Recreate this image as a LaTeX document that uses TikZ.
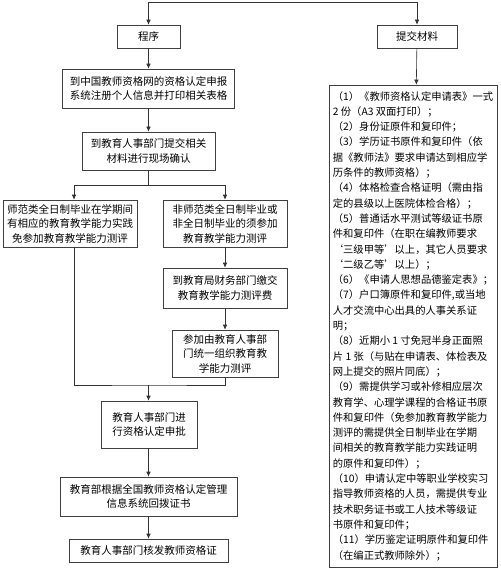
\documentclass[tikz,border=0pt]{standalone}
\usepackage{fontspec}
\setmainfont{Noto Sans CJK SC}
\usepackage{tikz}
\usetikzlibrary{arrows.meta, positioning}

\begin{document}
\begin{tikzpicture}[x=1pt, y=-1pt,
		box/.style={draw=black!75, line width=0.6pt, fill=white, align=center, inner sep=2pt,
			font=\fontsize{10.5}{14.5}\selectfont},
		listbox/.style={draw=black!75, line width=0.6pt, fill=white, align=left, inner sep=3pt,
			font=\fontsize{10.3}{15.3}\selectfont},
		wire/.style={draw=black!80, line width=0.6pt},
		arr/.style={wire, -{Latex[length=5pt, width=4.5pt]}}]
		\useasboundingbox (0, 0) rectangle (500, 572);
		% Paths, nodes and wires:
		\node[box, minimum width=63, minimum height=23](chengxu) at (148.5, 36.5){程序};
		\node[box, minimum width=80, minimum height=23](tijiao) at (417, 36.5){提交材料};
		\node[box, minimum width=172, minimum height=39](b1) at (148.5, 88.5){到中国教师资格网的资格认定申报\\系统注册个人信息并打印相关表格};
		\node[box, minimum width=133, minimum height=38](b2) at (148.5, 151){到教育人事部门提交相关\\材料进行现场确认};
		\node[box, minimum width=134, minimum height=47](left) at (70, 223.5){师范类全日制毕业在学期间\\有相应的教育教学能力实践\\免参加教育教学能力测评};
		\node[box, minimum width=124, minimum height=47](right1) at (225, 223.5){非师范类全日制毕业或\\非全日制毕业的须参加\\教育教学能力测评};
		\node[box, minimum width=124, minimum height=40](right2) at (225, 288){到教育局财务部门缴交\\教育教学能力测评费};
		\node[box, minimum width=106, minimum height=47](right3) at (225, 353.5){参加由教育人事部\\门统一组织教育教\\学能力测评};
		\node[box, minimum width=96, minimum height=47](approve) at (149, 424.5){教育人事部门进\\行资格认定申批};
		\node[box, minimum width=177, minimum height=39](issue) at (148.5, 496.5){教育部根据全国教师资格认定管理\\信息系统回拨证书};
		\node[box, minimum width=159, minimum height=23](final) at (148.5, 550.5){教育人事部门核发教师资格证};
		\node[listbox, minimum width=168, minimum height=482](cailiao) at (413, 326){%
			（1）《教师资格认定申请表》一式\\
			2 份（A3 双面打印）；\\
			（2）身份证原件和复印件；\\
			（3）学历证书原件和复印件（依\\
			据《教师法》要求申请达到相应学\\
			历条件的教师资格）；\\
			（4）体格检查合格证明（需由指\\
			定的县级以上医院体检合格）；\\
			（5）普通话水平测试等级证书原\\
			件和复印件（在职在编教师要求\\
			‘三级甲等’以上，其它人员要求\\
			‘二级乙等’以上）；\\
			（6）《申请人思想品德鉴定表》；\\
			（7）户口簿原件和复印件,或当地\\
			人才交流中心出具的人事关系证\\
			明；\\
			（8）近期小 1 寸免冠半身正面照\\
			片 1 张（与贴在申请表、体检表及\\
			网上提交的照片同底）；\\
			（9）需提供学习或补修相应层次\\
			教育学、心理学课程的合格证书原\\
			件和复印件（免参加教育教学能力\\
			测评的需提供全日制毕业在学期\\
			间相关的教育教学能力实践证明\\
			的原件和复印件）；\\
			（10）申请认定中等职业学校实习\\
			指导教师资格的人员，需提供专业\\
			技术职务证书或工人技术等级证\\
			书原件和复印件；\\
			（11）学历鉴定证明原件和复印件\\
			（在编正式教师除外）；};
		\coordinate(t1) at (148.5, 2);
		\coordinate(t2) at (417, 2);
		\coordinate(br) at (148.5, 185);
		\coordinate(mg) at (148.5, 385);
		\draw[arr] (t2) -- (t1) -- (chengxu.north);
		\draw[arr] (t2) -- (tijiao.north);
		\draw[arr] (tijiao) -- (cailiao);
		\draw[arr] (chengxu) -- (b1);
		\draw[arr] (b1) -- (b2);
		\draw[wire] (b2) -- (br);
		\draw[arr] (br) -| ([xshift=4pt]left.north);
		\draw[arr] (br) -| (right1.north);
		\draw[arr] (right1) -- (right2);
		\draw[arr] (right2) -- (right3);
		\draw[wire] ([xshift=4pt]left.south) |- (mg) -| (right3.south);
		\draw[arr] (mg) -- (approve.north -| mg);
		\draw[arr] (approve.south -| issue.north) -- (issue.north);
		\draw[arr] (issue) -- (final);
	\end{tikzpicture}
\end{document}
